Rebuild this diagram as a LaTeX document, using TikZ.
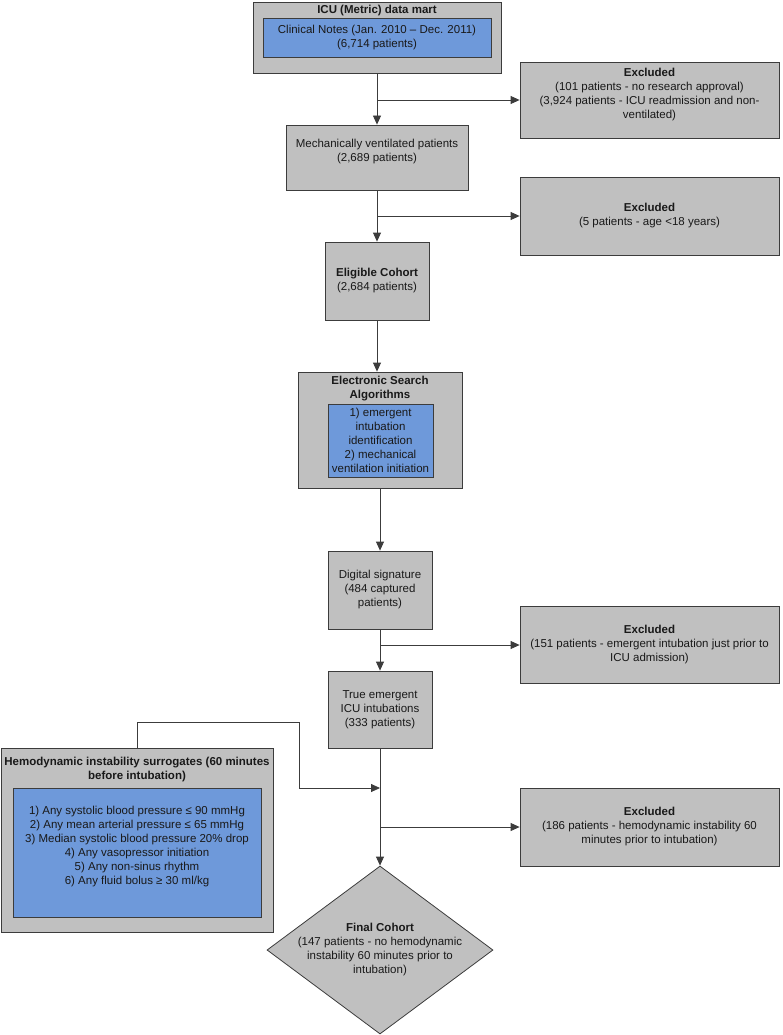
\documentclass[tikz,border=0pt]{standalone}
\usepackage{fontspec}
\setmainfont{Liberation Sans}
\usetikzlibrary{arrows.meta,positioning,shapes.geometric}
\definecolor{boxgray}{RGB}{192,192,192}
\definecolor{boxblue}{RGB}{110,153,218}
\definecolor{linegray}{RGB}{60,60,60}
\begin{document}
\begin{tikzpicture}[x=1pt,y=-1pt,
every node/.style={align=center,inner sep=0pt,text=black!90,font=\fontsize{11.5}{14}\selectfont},
gbox/.style={rectangle,draw=linegray,fill=boxgray,line width=0.8pt},
bbox/.style={rectangle,draw=linegray,fill=boxblue,line width=0.8pt},
arr/.style={draw=linegray,line width=0.8pt,-{Triangle[length=9pt,width=8pt]}}]
\useasboundingbox (0,0) rectangle (782,1035);
\node[gbox,minimum width=248pt,minimum height=71pt] (ICU) at (377,37.5) {};
\node (ICUt) at (377,11) {\textbf{ICU (Metric) data mart}};
\node[bbox,minimum width=228pt,minimum height=39pt] (Notes) at (377,37.5) {Clinical Notes (Jan. 2010 -- Dec. 2011)\\(6,714 patients)};
\node[gbox,minimum width=259pt,minimum height=76pt] (Ex1) at (649.5,100) {\textbf{Excluded}\\(101 patients - no research approval)\\(3,924 patients - ICU readmission and non-\\ventilated)\\~};
\node[gbox,minimum width=182pt,minimum height=65pt] (Mech) at (377,157.5) {Mechanically ventilated patients\\(2,689 patients)\\~};
\node[gbox,minimum width=259pt,minimum height=78pt] (Ex2) at (649.5,216) {\textbf{Excluded}\\(5 patients - age <18 years)};
\node[gbox,minimum width=104pt,minimum height=78pt] (Elig) at (377,281) {\textbf{Eligible Cohort}\\(2,684 patients)};
\node[gbox,minimum width=164pt,minimum height=116pt] (Search) at (380,430) {};
\node (Searcht) at (380,389) {\textbf{Electronic Search}\\\textbf{Algorithms}};
\node[bbox,minimum width=105pt,minimum height=73pt] (Algo) at (380.5,440.5) {1) emergent\\intubation\\identification\\2) mechanical\\ventilation initiation};
\node[gbox,minimum width=104pt,minimum height=78pt] (Dig) at (380,590) {Digital signature\\(484 captured\\patients)};
\node[gbox,minimum width=259pt,minimum height=77pt] (Ex3) at (649.5,645) {\textbf{Excluded}\\(151 patients - emergent intubation just prior to\\ICU admission)};
\node[gbox,minimum width=104pt,minimum height=77pt] (True) at (380,709.5) {True emergent\\ICU intubations\\(333 patients)};
\node[gbox,minimum width=272pt,minimum height=184pt] (Hemo) at (137,840) {};
\node (Hemot) at (137,770) {\textbf{Hemodynamic instability surrogates (60 minutes}\\\textbf{before intubation)}};
\node[bbox,minimum width=248pt,minimum height=129pt] (Surr) at (137,852.5) {1) Any systolic blood pressure ≤ 90 mmHg\\2) Any mean arterial pressure ≤ 65 mmHg\\3) Median systolic blood pressure 20\% drop\\4) Any vasopressor initiation\\5) Any non-sinus rhythm\\6) Any fluid bolus ≥ 30 ml/kg\\~};
\node[gbox,minimum width=259pt,minimum height=78pt] (Ex4) at (649.5,827) {\textbf{Excluded}\\(186 patients - hemodynamic instability 60\\minutes prior to intubation)};
\node[gbox,diamond,minimum width=226pt,minimum height=168pt] (Final) at (380,950) {};
\node (Finalt) at (380,950) {\textbf{Final Cohort}\\(147 patients - no hemodynamic\\instability 60 minutes prior to\\intubation)};
\coordinate (B1) at (377,100);
\coordinate (B2) at (377,216);
\coordinate (B3) at (380,645);
\coordinate (B4) at (380,827);
\coordinate (C1) at (299,722);
\coordinate (C2) at (380,788);
\draw[arr] (ICU)--(Mech);
\draw[arr] (B1)--(Ex1);
\draw[arr] (Mech)--(Elig);
\draw[arr] (B2)--(Ex2);
\draw[arr] (Elig)--(Elig |- Search.north);
\draw[arr] (Search)--(Dig);
\draw[arr] (Dig)--(True);
\draw[arr] (B3)--(Ex3);
\draw[arr] (True)--(Final);
\draw[arr] (B4)--(Ex4);
\draw[arr] (Hemo.north) |- (C1) |- (C2);
\end{tikzpicture}
\end{document}
